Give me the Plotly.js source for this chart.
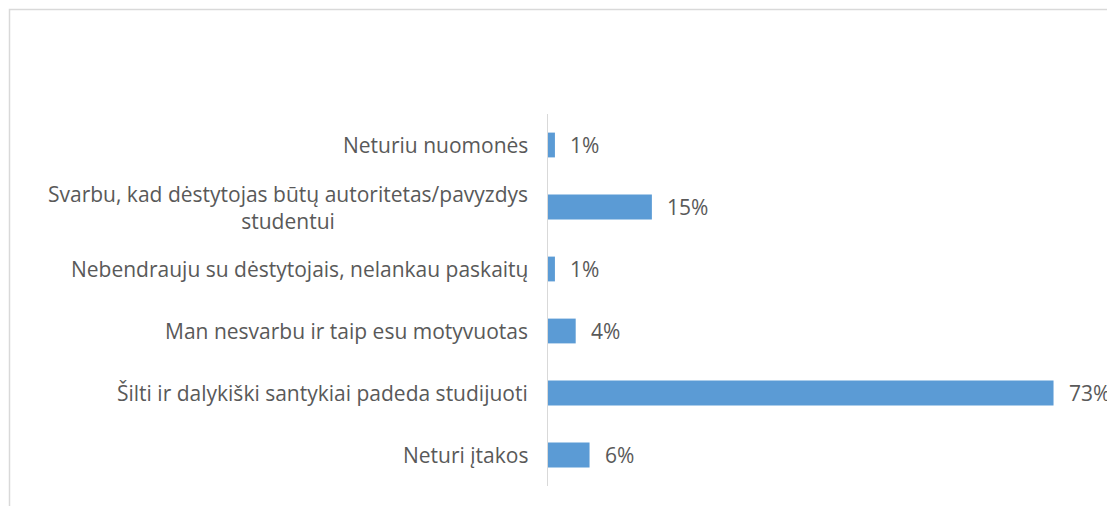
<!DOCTYPE html>
<html>
<head>
<meta charset="utf-8">
<script src="https://cdn.plot.ly/plotly-3.0.1.min.js"></script>
<style>
html,body{margin:0;padding:0;background:#fff;overflow:hidden;}
#chart{width:1107px;height:506px;}
</style>
</head>
<body>
<div id="chart"></div>
<script>
// Categories listed bottom to top
const categories = [
  "Neturi įtakos",
  "Šilti ir dalykiški santykiai padeda studijuoti",
  "Man nesvarbu ir taip esu motyvuotas",
  "Nebendrauju su dėstytojais, nelankau paskaitų",
  "Svarbu, kad dėstytojas būtų autoritetas/pavyzdys<br>studentui",
  "Neturiu nuomonės"
];
const values = [0.06, 0.73, 0.04, 0.01, 0.15, 0.01];
const valueLabels = ["6%", "73%", "4%", "1%", "15%", "1%"];

const textColor = "#595959";
const fontFamily = "'Open Sans', sans-serif";
const fontSize = 21;

const annotations = [];
categories.forEach((c, i) => {
  annotations.push({
    xref: "paper", yref: "y", x: 0, y: c,
    text: c, showarrow: false, xanchor: "right", yanchor: "middle",
    align: "center", xshift: -18,
    font: {family: fontFamily, size: fontSize, color: textColor}
  });
  annotations.push({
    xref: "x", yref: "y", x: values[i], y: c,
    text: valueLabels[i], showarrow: false, xanchor: "left", yanchor: "middle",
    xshift: 13,
    font: {family: fontFamily, size: fontSize, color: textColor}
  });
});

const data = [{
  type: "bar",
  orientation: "h",
  y: categories,
  x: values,
  marker: {color: "#5b9bd5", line: {width: 0}},
  hoverinfo: "none"
}];

const layout = {
  width: 1107, height: 506,
  margin: {l: 548, r: 5, t: 114, b: 20, pad: 0},
  paper_bgcolor: "#fff", plot_bgcolor: "#fff",
  bargap: 0.6,
  showlegend: false,
  xaxis: {range: [0, 0.8], visible: false, fixedrange: true},
  yaxis: {
    type: "category", showticklabels: false, showgrid: false,
    showline: true, linecolor: "#d9d9d9", linewidth: 1.5,
    ticks: "", zeroline: false, fixedrange: true
  },
  annotations: annotations,
  shapes: [{
    type: "rect", xref: "paper", yref: "paper",
    x0: (9.5 - 548) / 554, x1: 1.3,
    y0: -0.3, y1: (486 - 9.5) / 372,
    line: {color: "#d9d9d9", width: 1.5}, fillcolor: "rgba(0,0,0,0)", layer: "below"
  }]
};

Plotly.newPlot("chart", data, layout, {staticPlot: true, displayModeBar: false});
</script>
</body>
</html>
